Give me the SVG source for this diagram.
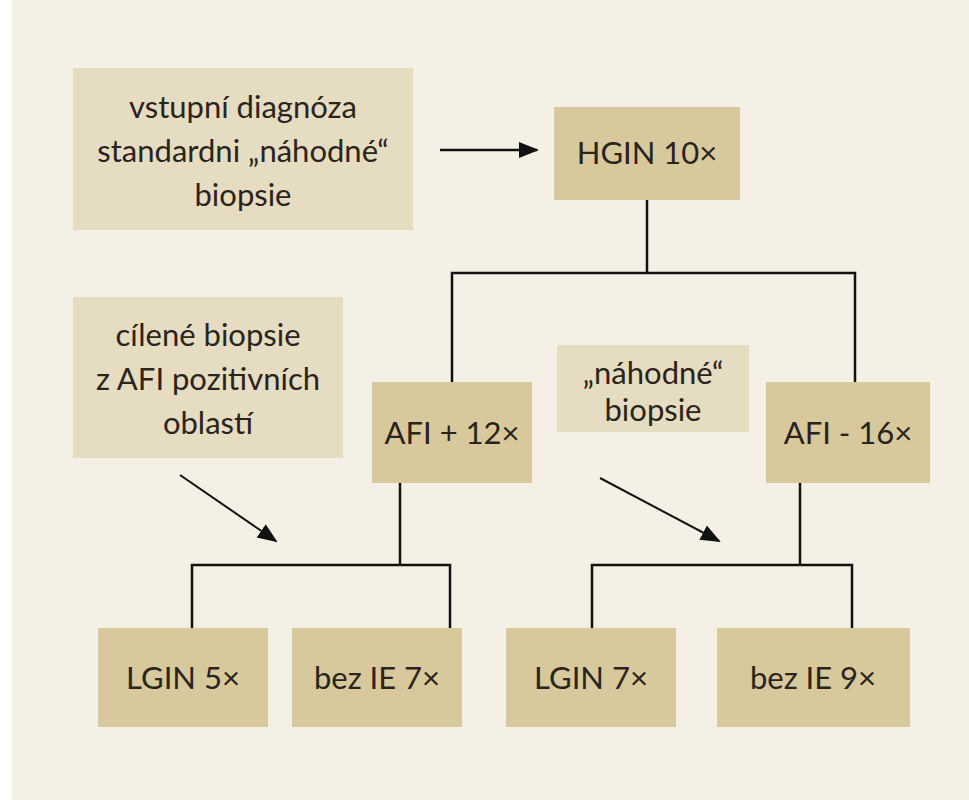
<svg xmlns="http://www.w3.org/2000/svg" width="969" height="800" viewBox="0 0 969 800">
<style>
.l{fill:#e6dcc2}.d{fill:#d8c99d}
text{font-family:Lato,"Open Sans",sans-serif;font-size:31px;fill:#2a241a;text-anchor:middle}
.c{stroke:#111;stroke-width:2.5;fill:none}
</style>
<defs><marker id="b" markerWidth="20" markerHeight="20" refX="18" refY="10" orient="auto" markerUnits="userSpaceOnUse" viewBox="0 0 20 20"><path d="M0,2L20,10L0,18z" fill="#111"/></marker></defs>
<rect width="969" height="800" fill="#fff"/>
<rect x="12" y="0" width="957" height="800" fill="#f4f0e5"/>
<g id="n1"><rect class="l" x="73" y="68" width="340" height="162"/><text x="243" y="118">vstupní diagnóza</text><text x="243" y="162">standardni „náhodné“</text><text x="243" y="206">biopsie</text></g>
<g id="n2"><rect class="d" x="554" y="107" width="186" height="93"/><text x="647" y="164">HGIN 10×</text></g>
<g id="n3"><rect class="l" x="73" y="297" width="270" height="161"/><text x="208" y="346">cílené biopsie</text><text x="208" y="390">z AFI pozitivních</text><text x="208" y="434">oblastí</text></g>
<g id="n4"><rect class="d" x="372" y="382" width="160" height="101"/><text x="452" y="444">AFI + 12×</text></g>
<g id="n5"><rect class="l" x="557" y="345" width="192" height="87"/><text x="653" y="384">„náhodné“</text><text x="653" y="421">biopsie</text></g>
<g id="n6"><rect class="d" x="766" y="382" width="164" height="101"/><text x="848" y="444">AFI - 16×</text></g>
<g id="n7"><rect class="d" x="98" y="628" width="170" height="99"/><text x="183" y="689">LGIN 5×</text></g>
<g id="n8"><rect class="d" x="292" y="628" width="170" height="99"/><text x="377" y="689">bez IE 7×</text></g>
<g id="n9"><rect class="d" x="506" y="628" width="170" height="99"/><text x="591" y="689">LGIN 7×</text></g>
<g id="n10"><rect class="d" x="717" y="628" width="193" height="99"/><text x="813" y="689">bez IE 9×</text></g>
<g id="connectors">
<path class="c" d="M440,150H537" marker-end="url(#b)"/>
<path class="c" d="M647,200V273M452,382V273H855V382"/>
<path class="c" d="M400,483V565M192,628V565H450V628"/>
<path class="c" d="M800,483V565M592,628V565H852V628"/>
<path class="c" d="M180,475L276,541" marker-end="url(#b)" style="stroke-width:2"/>
<path class="c" d="M600,478L719,541" marker-end="url(#b)" style="stroke-width:2"/>
</g>
</svg>
